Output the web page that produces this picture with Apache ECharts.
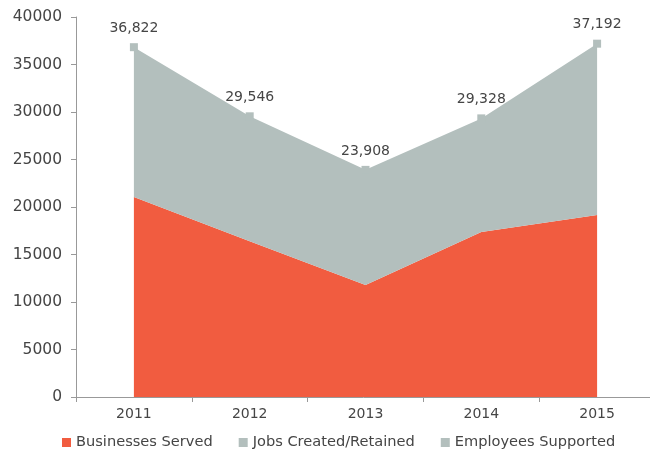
<!DOCTYPE html>
<html><head><meta charset="utf-8">
<script src="https://cdn.jsdelivr.net/npm/echarts@6/dist/echarts.min.js"></script>
<style>html,body{margin:0;padding:0;background:#fff}#c{width:650px;height:455px}</style>
</head><body><div id="c"></div>
<script>
var years = ['2011','2012','2013','2014','2015'];
var businessesServed = [21050, 16400, 11800, 17380, 19150];
var employeesSupported = [36822, 29546, 23908, 29328, 37192];
var jobsCreated = employeesSupported.map(function(v,i){return v - businessesServed[i];});
var yTicks = {min:0, max:40000, interval:5000};

var font = 'DejaVu Sans';
var txt = '#454545';
var chart = echarts.init(document.getElementById('c'));
chart.setOption({
  animation:false,
  textStyle:{fontFamily:font},
  grid:{left:76, width:579, top:17, bottom:58, containLabel:false, outerBoundsMode:'none'},
  legend:{
    bottom:0, left:57, itemWidth:9, itemHeight:9, itemGap:26,
    textStyle:{fontFamily:font, fontSize:14.6, color:txt},
    data:[
      {name:'Businesses Served', icon:'rect'},
      {name:'Jobs Created/Retained', icon:'rect'},
      {name:'Employees Supported', icon:'rect'}
    ]
  },
  xAxis:{
    type:'category', data:years, boundaryGap:true,
    axisLine:{lineStyle:{color:'#999', width:1}},
    axisTick:{show:true, length:5, lineStyle:{color:'#999'}},
    axisLabel:{fontSize:14, color:txt, margin:10}
  },
  yAxis:{
    type:'value', min:yTicks.min, max:yTicks.max, interval:yTicks.interval,
    splitLine:{show:false},
    axisLine:{show:true, lineStyle:{color:'#999'}},
    axisTick:{show:true, length:5, lineStyle:{color:'#999'}},
    axisLabel:{fontSize:15.5, color:txt, margin:14, formatter:function(v){return String(v);}}
  },
  series:[
    {name:'Businesses Served', type:'line', stack:'a', data:businessesServed,
     symbol:'none', lineStyle:{width:0}, itemStyle:{color:'#F15C40'},
     areaStyle:{color:'#F15C40', opacity:1}},
    {name:'Jobs Created/Retained', type:'line', stack:'a', data:jobsCreated,
     symbol:'none', lineStyle:{width:0}, itemStyle:{color:'#B3BFBD'},
     areaStyle:{color:'#B3BFBD', opacity:1}},
    {name:'Employees Supported', type:'line', data:employeesSupported,
     symbol:'rect', symbolSize:8, lineStyle:{width:0, opacity:0},
     itemStyle:{color:'#B3BFBD'},
     label:{show:true, position:'top', distance:8, fontSize:14, color:txt,
       formatter:function(p){return p.value.toLocaleString('en-US');}}}
  ]
});
</script></body></html>
